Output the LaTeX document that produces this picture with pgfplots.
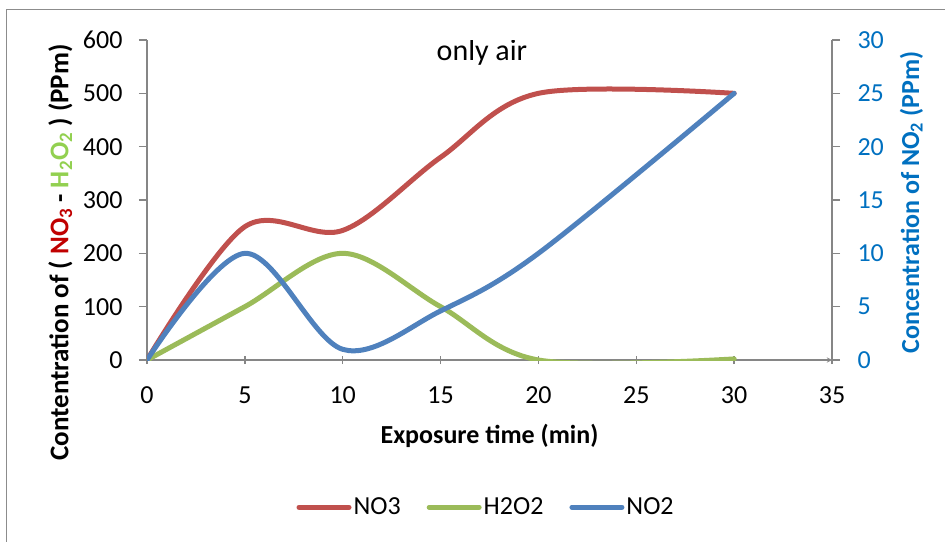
\documentclass[border=0pt]{standalone}
\usepackage{pgfplots}
\pgfplotsset{compat=1.18}
\usepackage{fontspec}
\setmainfont{Carlito}

\definecolor{cNO3}{RGB}{192,80,77}
\definecolor{cH2O2}{RGB}{155,187,89}
\definecolor{cNO2}{RGB}{79,129,189}
\definecolor{axblue}{RGB}{0,112,192}
\definecolor{labred}{RGB}{192,0,0}
\definecolor{labgreen}{RGB}{146,208,80}
\definecolor{axgray}{RGB}{134,134,134}

\newcommand{\chartfont}{\fontsize{26}{31}\selectfont}

\pgfplotsset{
  base/.style={
    scale only axis, width=685pt, height=320pt,
    at={(0pt,0pt)}, anchor=south west,
    xmin=0, xmax=35, xtick={0,5,...,35},
    axis line style={axgray, line width=1.3pt, -},
    every tick/.style={axgray, line width=1.3pt},
    major tick length=8pt, tick align=outside,
    tick label style={font=\chartfont},
    xticklabel style={yshift=-19pt},
    /pgf/number format/assume math mode=true,
    legend image code/.code={\draw[##1,line cap=round] (0pt,0pt) -- (50pt,0pt);},
  },
  ser/.style={line width=5pt, smooth, tension=0.55, line cap=round, line join=round},
}

\pgfplotstableread{
t   NO3  H2O2  NO2
0   0    0     0
5   250  100   10
10  243  200   1
15  380  100   4.6
20  500  0     10
30  500  2     25
}\data

\begin{document}
\begin{tikzpicture}
\path[use as bounding box] (-147pt,-181pt) rectangle (798pt,360pt);
\draw[black!45, line width=1pt] (-140pt,-190pt) -- (-140pt,350pt) -- (810pt,350pt);

\begin{axis}[base,
  axis x line=bottom, axis y line*=left,
  ymin=0, ymax=600, ytick={0,100,...,600},
  yticklabel style={xshift=-13pt},
  xlabel={\bfseries Exposure time (min)},
  xlabel style={font=\chartfont, at={(axis description cs:0.5,-0.237)}, anchor=center},
  ylabel={\bfseries Contentration of ( \textcolor{labred}{NO\textsubscript{3}} - \textcolor{labgreen}{H\textsubscript{2}O\textsubscript{2}} ) (PPm)},
  ylabel style={font=\fontsize{27}{32}\selectfont, at={(axis description cs:-0.1266,0.336)}, anchor=center},
]
\addplot[ser, cNO3] table[x=t, y=NO3] {\data};
\addplot[ser, cH2O2] table[x=t, y=H2O2] {\data};
\node[font=\fontsize{30}{36}\selectfont] at (axis description cs:0.489,0.9625) {only air};
\end{axis}

\begin{axis}[base,
  axis x line=none, axis y line*=right,
  ymin=0, ymax=30, ytick={0,5,...,30},
  yticklabel style={text=axblue, xshift=14pt},
  ylabel={\bfseries Concentration of NO\textsubscript{2} (PPm)},
  ylabel style={font=\chartfont, text=axblue, at={(axis description cs:1.1158,0.492)}, anchor=center},
  legend style={at={(axis description cs:0.495,-0.460)}, anchor=center, draw=none, fill=none,
    font=\chartfont, legend columns=3, nodes={inner xsep=2pt},
    /tikz/every even column/.append style={column sep=24pt}},
]
\addlegendimage{ser, cNO3}\addlegendentry{NO3}
\addlegendimage{ser, cH2O2}\addlegendentry{H2O2}
\addplot[ser, cNO2] table[x=t, y=NO2] {\data};
\addlegendentry{NO2}
\end{axis}
\end{tikzpicture}
\end{document}
